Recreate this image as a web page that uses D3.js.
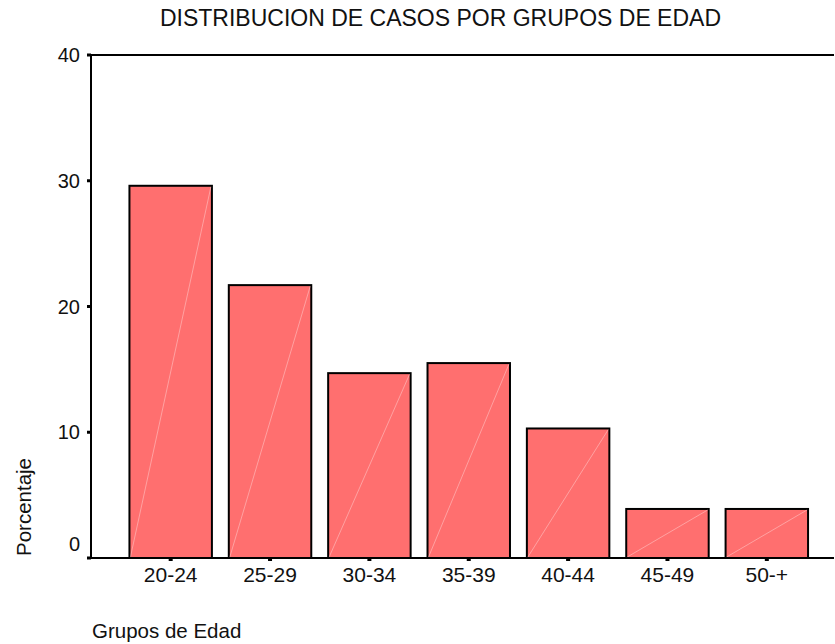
<!DOCTYPE html>
<html>
<head>
<meta charset="utf-8">
<script src="https://cdn.jsdelivr.net/npm/d3@7"></script>
<style>
  body { margin: 0; background: #fff; }
  svg text { font-family: "Liberation Sans", Arial, sans-serif; fill: #111; }
</style>
</head>
<body>
<div id="chart"></div>
<script>
// age groups and percentage of cases
let groups = ["20-24", "25-29", "30-34", "35-39", "40-44", "45-49", "50-+"];
let percents = [29.6, 21.7, 14.7, 15.5, 10.3, 3.9, 3.9];
let yTicks = [0, 10, 20, 30, 40];

let width = 835, height = 644;
let plot = {left: 91, right: 834, top: 55, bottom: 558};

let svg = d3.select("#chart")
  .append("svg")
    .attr("width", width)
    .attr("height", height);

let x = d3.scaleBand()
    .domain(groups)
    .range([121, 816.5])
    .paddingInner(0.17)
    .paddingOuter(0.085);

let y = d3.scaleLinear()
    .domain([0, 40])
    .range([plot.bottom, plot.top]);

// bars
let bars = svg.append("g")
  .selectAll("g")
  .data(groups)
  .enter().append("g");

bars.append("rect")
    .attr("x", d => x(d))
    .attr("y", (d, i) => y(percents[i]))
    .attr("width", x.bandwidth())
    .attr("height", (d, i) => y(0) - y(percents[i]))
    .attr("fill", "#ff6f6f")
    .attr("stroke", "#000")
    .attr("stroke-width", 2);

// faint diagonal on each bar
bars.append("line")
    .attr("x1", d => x(d) + 1)
    .attr("y1", y(0) - 1)
    .attr("x2", d => x(d) + x.bandwidth() - 1)
    .attr("y2", (d, i) => y(percents[i]) + 1)
    .attr("stroke", "#ffffff")
    .attr("stroke-opacity", 0.35)
    .attr("stroke-width", 1);

// frame lines
svg.append("line")
    .attr("x1", plot.left).attr("x2", plot.right)
    .attr("y1", plot.top).attr("y2", plot.top)
    .attr("stroke", "#000").attr("stroke-width", 2);
svg.append("line")
    .attr("x1", plot.left).attr("x2", plot.right)
    .attr("y1", plot.bottom).attr("y2", plot.bottom)
    .attr("stroke", "#000").attr("stroke-width", 2);
svg.append("line")
    .attr("x1", plot.left).attr("x2", plot.left)
    .attr("y1", plot.top - 1).attr("y2", plot.bottom + 1)
    .attr("stroke", "#000").attr("stroke-width", 2);

// y ticks and labels
svg.append("g")
  .selectAll("rect")
  .data(yTicks)
  .enter().append("rect")
    .attr("x", plot.left - 4)
    .attr("y", d => y(d) - 1.5)
    .attr("width", 4)
    .attr("height", 3)
    .attr("fill", "#000");

svg.append("g")
  .selectAll("text")
  .data(yTicks)
  .enter().append("text")
    .attr("x", 80)
    .attr("y", d => d === 0 ? y(d) - 14 : y(d))
    .attr("dy", "0.36em")
    .attr("text-anchor", "end")
    .style("font-size", "20px")
    .text(d => d);

// x ticks and labels
svg.append("g")
  .selectAll("rect")
  .data(groups)
  .enter().append("rect")
    .attr("x", d => x(d) + x.bandwidth() / 2 - 2)
    .attr("y", plot.bottom)
    .attr("width", 4)
    .attr("height", 3)
    .attr("fill", "#000");

svg.append("g")
  .selectAll("text")
  .data(groups)
  .enter().append("text")
    .attr("x", d => x(d) + x.bandwidth() / 2)
    .attr("y", 582)
    .attr("text-anchor", "middle")
    .style("font-size", "21px")
    .text(d => d);

// titles
svg.append("text")
    .attr("x", 440.5)
    .attr("y", 26)
    .attr("text-anchor", "middle")
    .style("font-size", "23px")
    .text("DISTRIBUCION DE CASOS POR GRUPOS DE EDAD");

svg.append("text")
    .attr("transform", "translate(31,507) rotate(-90)")
    .attr("text-anchor", "middle")
    .style("font-size", "20.5px")
    .text("Porcentaje");

svg.append("text")
    .attr("x", 92)
    .attr("y", 638)
    .style("font-size", "20.5px")
    .text("Grupos de Edad");
</script>
</body>
</html>
